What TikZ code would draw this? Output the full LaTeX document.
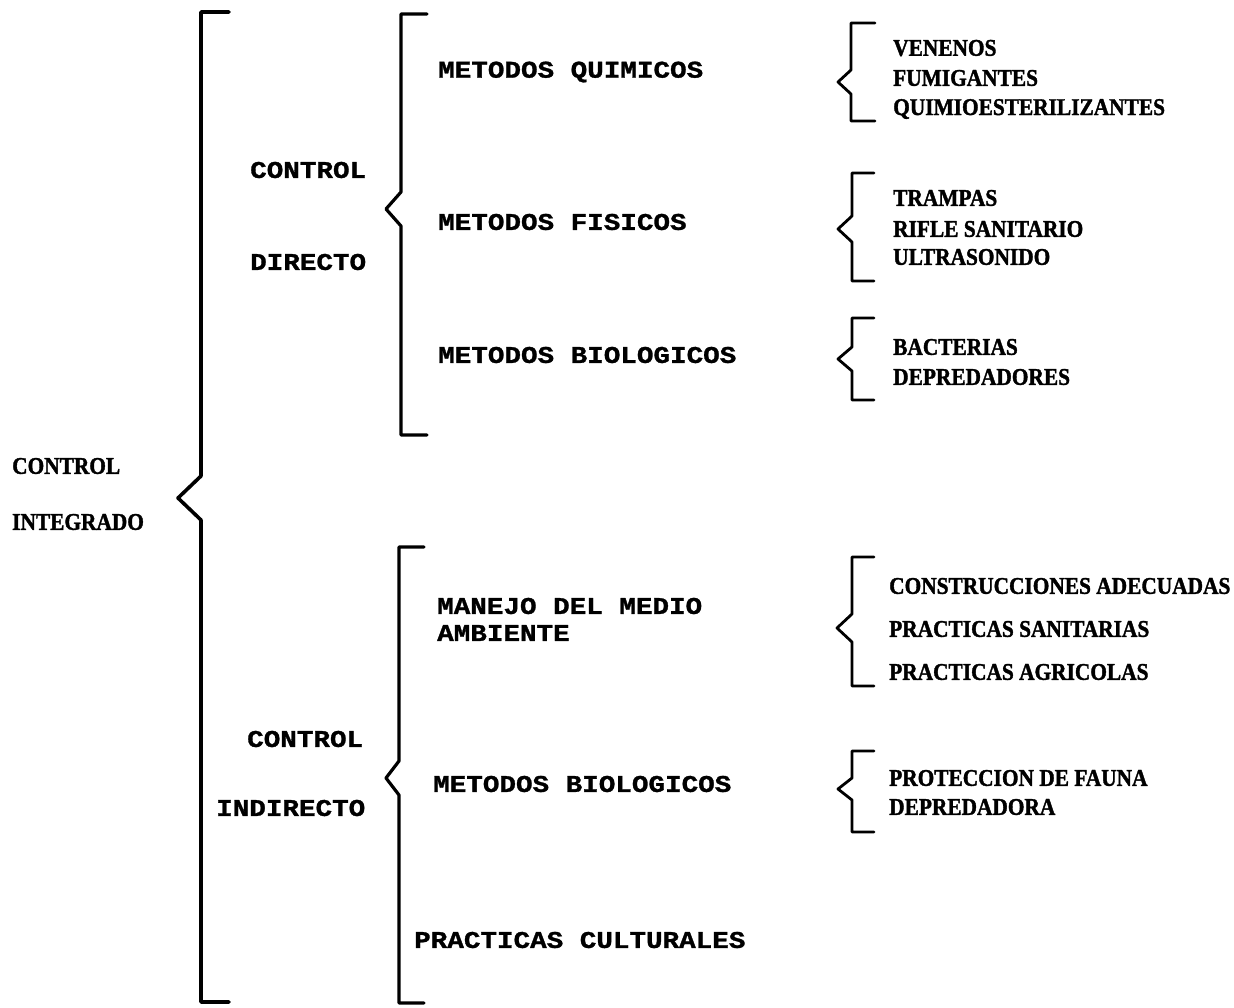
\documentclass[tikz,border=0pt]{standalone}
\usepackage{fontspec}
\newfontfamily\twfont[FakeStretch=1.15,FakeBold=1.2]{Liberation Mono}
\newfontfamily\rsfont[FakeStretch=0.89,FakeBold=1.5]{Liberation Serif}
\begin{document}
\begin{tikzpicture}[x=1pt,y=-1pt,
  tw/.style={anchor=west,inner sep=0pt,font=\twfont\bfseries\fontsize{24}{24}\selectfont},
  rs/.style={anchor=west,inner sep=0pt,font=\rsfont\bfseries\fontsize{24}{24}\selectfont},
  bigline/.style={line width=3.6pt,line join=round,line cap=round},
  midline/.style={line width=3.2pt,line join=round,line cap=round},
  smline/.style={line width=2.8pt,line join=round,line cap=round}]
\useasboundingbox (0,0) rectangle (1234,1007);
% brace macro: style, x, top, bottom, point y, depth, half-kink, tick
\def\brc#1#2#3#4#5#6#7#8{%
  \coordinate (b#2#3t) at (#2+#8,#3);
  \coordinate (b#2#3b) at (#2+#8,#4);
  \coordinate (b#2#3p) at (#2-#6,#5);
  \draw[#1] (b#2#3t) -- (#2,#3) -- (#2,#5-#7) -- (b#2#3p) -- (#2,#5+#7) -- (#2,#4) -- (b#2#3b);}
% main brace
\brc{bigline}{201}{12}{1002}{498}{23}{22}{28}
% direct / indirect braces
\brc{midline}{401}{14}{435}{209}{15}{17}{26}
\brc{midline}{399}{547}{1003}{778}{13}{17}{25}
% small braces upper
\brc{smline}{851}{23}{121}{82}{13}{12}{24}
\brc{smline}{852}{173}{281}{229}{14}{13}{22}
\brc{smline}{852}{318}{400}{359}{14}{12}{22}
% small braces lower
\brc{smline}{852}{557}{686}{628}{15}{14}{22}
\brc{smline}{852}{751}{832}{789}{14}{11}{22}
% left
\node[rs] (ci1) at (12,466) {CONTROL};
\node[rs] (ci2) at (12,522) {INTEGRADO};
% middle
\node[tw] (cd1) at (250,170) {CONTROL};
\node[tw] (cd2) at (250,262) {DIRECTO};
\node[tw] (mq) at (438,72) {METODOS QUIMICOS};
\node[tw] (mf) at (438,222) {METODOS FISICOS};
\node[tw] (mb) at (438,355) {METODOS BIOLOGICOS};
\node[tw] (cn1) at (247,739) {CONTROL};
\node[tw] (cn2) at (216,808) {INDIRECTO};
\node[tw] (mm1) at (437,606) {MANEJO DEL MEDIO};
\node[tw] (mm2) at (437,633) {AMBIENTE};
\node[tw] (mb2) at (433,784) {METODOS BIOLOGICOS};
\node[tw] (pc) at (414,940) {PRACTICAS CULTURALES};
% right
\node[rs] (r1) at (893,48) {VENENOS};
\node[rs] (r2) at (893,78) {FUMIGANTES};
\node[rs] (r3) at (893,109) {QUIMIOESTERILIZANTES};
\node[rs] (r4) at (893,198) {TRAMPAS};
\node[rs] (r5) at (893,229) {RIFLE SANITARIO};
\node[rs] (r6) at (893,257) {ULTRASONIDO};
\node[rs] (r7) at (893,347) {BACTERIAS};
\node[rs] (r8) at (893,377) {DEPREDADORES};
\node[rs] (r9) at (889,586) {CONSTRUCCIONES ADECUADAS};
\node[rs] (r10) at (889,629) {PRACTICAS SANITARIAS};
\node[rs] (r11) at (889,672) {PRACTICAS AGRICOLAS};
\node[rs] (r12) at (889,778) {PROTECCION DE FAUNA};
\node[rs] (r13) at (889,807) {DEPREDADORA};
\end{tikzpicture}
\end{document}
